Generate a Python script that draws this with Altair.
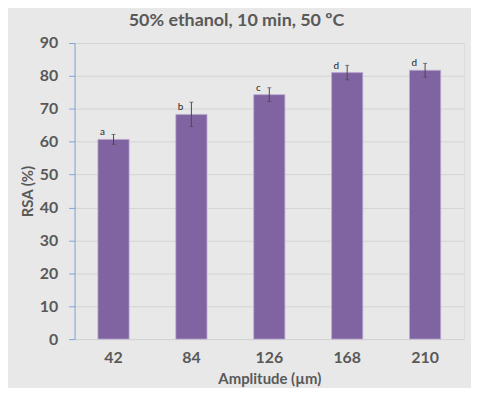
import altair as alt
import pandas as pd

amplitude = ["42", "84", "126", "168", "210"]
rsa = [60.7, 68.3, 74.3, 81.0, 81.7]
err = [1.5, 3.7, 2.1, 2.2, 2.1]
letters = ["a", "b", "c", "d", "d"]

df = pd.DataFrame({
    "amp": amplitude,
    "rsa": rsa,
    "lo": [v - e for v, e in zip(rsa, err)],
    "hi": [v + e for v, e in zip(rsa, err)],
    "letter": letters,
})

FONT = "Lato"
GRAY = "#595959"

x = alt.X("amp:N", sort=amplitude,
          scale=alt.Scale(paddingInner=0.6, paddingOuter=0.3),
          axis=alt.Axis(title="Amplitude (µm)", labelAngle=0, ticks=False,
                        domainColor="#d4d4d4", labelPadding=11,
                        labelFontSize=16, labelFontWeight="bold", labelColor=GRAY,
                        titleFontSize=15, titleFontWeight="bold", titleColor=GRAY,
                        titleY=45, titleBaseline="alphabetic"))

yscale = alt.Scale(domain=[0, 90], nice=False)
yaxis = alt.Axis(title="RSA (%)", values=list(range(0, 91, 10)),
                 domainColor="#7fa6d9", tickColor="#7fa6d9", tickSize=6,
                 grid=True, gridColor="#d4d4d4", labelOverlap=False,
                 labelPadding=11, labelFontSize=16, labelFontWeight="bold",
                 labelColor=GRAY, titleFontSize=15, titleFontWeight="bold",
                 titleColor=GRAY, titleX=-42, titleY=149,
                 titleBaseline="alphabetic", titleAngle=-90)


def Y(field):
    return alt.Y(field, scale=yscale, axis=yaxis, title="RSA (%)")


base = alt.Chart(df)

bars = base.mark_bar(color="#8064a2", stroke="#b9a9cf", strokeWidth=0.8).encode(
    x=x, y=Y("rsa:Q"))

rules = base.mark_rule(color="#4a4a4a", strokeWidth=1).encode(
    x=x, y=Y("lo:Q"), y2="hi:Q")
caps_hi = base.mark_tick(color="#4a4a4a", orient="horizontal", size=4, thickness=1).encode(
    x=x, y=Y("hi:Q"))
caps_lo = base.mark_tick(color="#4a4a4a", orient="horizontal", size=4, thickness=1).encode(
    x=x, y=Y("lo:Q"))
labels = base.mark_text(font=FONT, fontSize=10, color="#262626", dx=-11, dy=-2,
                        baseline="bottom").encode(
    x=x, y=Y("rsa:Q"), text="letter:N")

chart = (bars + rules + caps_hi + caps_lo + labels).properties(
    width=392, height=298,
    title=alt.TitleParams("50% ethanol, 10 min, 50 ºC", fontSize=18, fontWeight="bold",
                          color=GRAY, font=FONT, anchor="middle", dx=-33, offset=5),
    autosize=alt.AutoSizeParams(type="none"),
    padding={"left": 67, "top": 34, "right": 7, "bottom": 48},
    background="#e8e8e8",
).configure_view(stroke=None).configure(font=FONT)

chart.save("out.html", embed_options={"renderer": "svg", "actions": False})
